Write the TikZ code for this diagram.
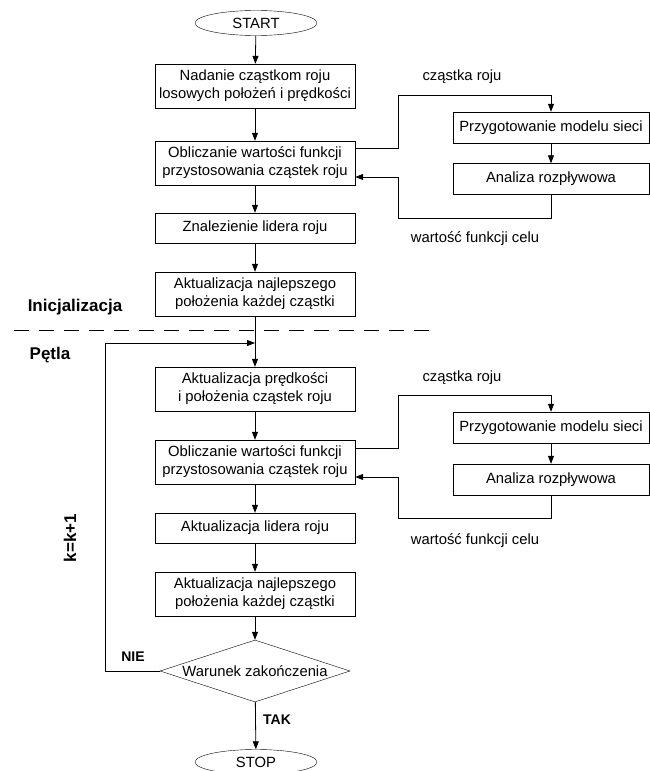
\documentclass[tikz,border=0pt]{standalone}
\usepackage{fontspec}
\setmainfont{Liberation Sans}
\usetikzlibrary{shapes.geometric,arrows.meta}
\begin{document}
\begin{tikzpicture}[x=1pt,y=-1pt,
  every node/.style={inner sep=0pt},
  txt/.style={font=\fontsize{14.8}{18}\selectfont},
  box/.style={draw,txt,align=center,minimum width=200pt,minimum height=44pt},
  sbox/.style={box,minimum height=30pt},
  side/.style={draw,txt,align=center,minimum width=196pt,minimum height=31pt},
  term/.style={draw,ellipse,txt,minimum width=122pt,minimum height=25pt},
  lab/.style={font=\fontsize{17}{20}\selectfont\bfseries},
  slab/.style={font=\fontsize{14}{17}\selectfont\bfseries},
  arr/.style={-{Triangle[length=8pt,width=6pt]},line width=0.8pt},
  ln/.style={line width=0.8pt}]
\useasboundingbox (0,0) rectangle (650,771);

\node[term] (start) at (256,23) {START};
\node[box] (b1) at (255,86) {Nadanie cząstkom roju\\losowych położeń i prędkości};
\node[box] (b2) at (255,163) {Obliczanie wartości funkcji\\przystosowania cząstek roju};
\node[sbox] (b3) at (255,228) {Znalezienie lidera roju};
\node[box] (b4) at (255,294) {Aktualizacja najlepszego\\położenia każdej cząstki};

\node[side] (pa1) at (551,127.5) {Przygotowanie modelu sieci};
\node[side] (ar1) at (551,179) {Analiza rozpływowa};
\node[txt] (cz1) at (462,77) {cząstka roju};
\node[txt] (wf1) at (475,239) {wartość funkcji celu};

\node[lab] (ini) at (75,307) {Inicjalizacja};
\node[lab] (pet) at (50,355) {Pętla};
\coordinate (d1) at (14,330);
\coordinate (d2) at (432,330);
\draw[ln,dash pattern=on 15pt off 10pt] (d1) -- (d2);

\node[box] (b5) at (255,389) {Aktualizacja prędkości\\i położenia cząstek roju};
\node[box] (b6) at (255,462) {Obliczanie wartości funkcji\\przystosowania cząstek roju};
\node[sbox] (b7) at (255,528) {Aktualizacja lidera roju};
\node[box] (b8) at (255,594) {Aktualizacja najlepszego\\położenia każdej cząstki};
\node[draw,diamond,txt,minimum width=190pt,minimum height=62pt,aspect=3] (dec) at (255,671) {Warunek zakończenia};
\node[term] (stop) at (256,762) {STOP};

\node[side] (pa2) at (551,427.5) {Przygotowanie modelu sieci};
\node[side] (ar2) at (551,479.5) {Analiza rozpływowa};
\node[txt] (cz2) at (462,378) {cząstka roju};
\node[txt] (wf2) at (475,541) {wartość funkcji celu};

\node[lab,rotate=90] (kk) at (70,538) {k=k+1};
\node[slab] (nie) at (133,657) {NIE};
\node[slab] (tak) at (277,720) {TAK};

% main flow
\draw[arr] (start) -- (b1);
\draw[arr] (b1) -- (b2);
\draw[arr] (b2) -- (b3);
\draw[arr] (b3) -- (b4);
\draw[arr] (b4) -- (b5);
\draw[arr] (b5) -- (b6);
\draw[arr] (b6) -- (b7);
\draw[arr] (b7) -- (b8);
\draw[arr] (b8) -- (dec);
\draw[arr] (dec) -- (stop);
\draw[arr] (dec.west) -| (105,343) -- (b4.south |- 0,343);

% side loops top
\draw[arr] (b2.east |- 0,148) -- (398,148) -- (398,95) -| (pa1.north);
\draw[arr] (pa1) -- (ar1);
\draw[arr] (ar1.south) -- (ar1.south |- 0,218) -| (398,177) -- (b2.east |- 0,177);

% side loops bottom
\draw[arr] (b6.east |- 0,448) -- (398,448) -- (398,395) -| (pa2.north);
\draw[arr] (pa2) -- (ar2);
\draw[arr] (ar2.south) -- (ar2.south |- 0,518) -| (398,477) -- (b6.east |- 0,477);
\end{tikzpicture}
\end{document}
